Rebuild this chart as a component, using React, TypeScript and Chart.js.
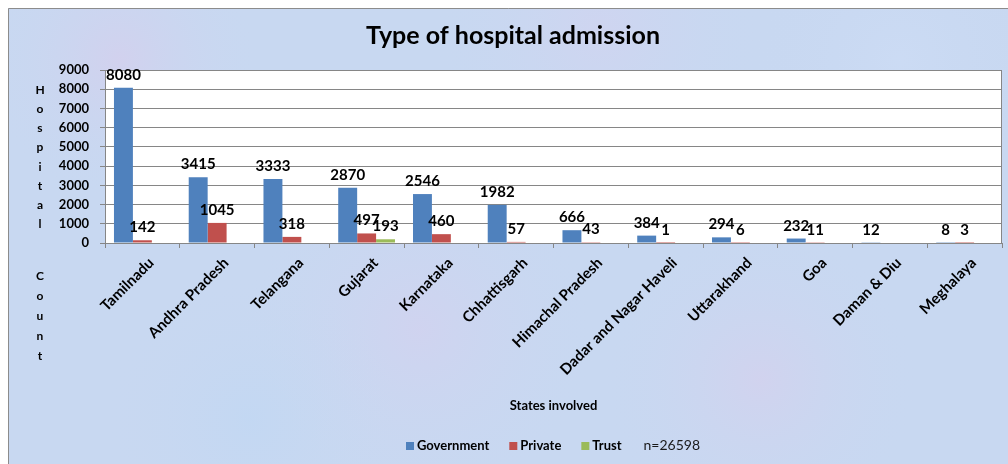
import React, { useEffect, useRef } from "react";
import { Chart, registerables } from "chart.js";

Chart.register(...registerables);

const categories = [
  "Tamilnadu",
  "Andhra Pradesh",
  "Telangana",
  "Gujarat",
  "Karnataka",
  "Chhattisgarh",
  "Himachal Pradesh",
  "Dadar and Nagar Haveli",
  "Uttarakhand",
  "Goa",
  "Daman & Diu",
  "Meghalaya",
];
const governmentValues = [8080, 3415, 3333, 2870, 2546, 1982, 666, 384, 294, 232, 12, 8];
const privateValues = [142, 1045, 318, 497, 460, 57, 43, 1, 6, 11, 0, 3];
const trustValues = [0, 0, 0, 193, 0, 0, 0, 0, 0, 0, 0, 0];
const seriesNames = ["Government", "Private", "Trust"];
const seriesColors = ["#4F81BD", "#C0504D", "#9BBB59"];
const yMin = 0;
const yMax = 9000;
const yStep = 1000;
const chartTitle = "Type of hospital admission";
const yTitleWords = ["Hospital", "Count"];
const xTitle = "States involved";
const noteText = "n=26598";

const FONT = "Lato, 'Open Sans', sans-serif";

const decorPlugin = {
  id: "decor",
  beforeDraw(chart: any) {
    const { ctx, width, height, chartArea } = chart;
    ctx.save();
    ctx.fillStyle = "#ffffff";
    ctx.fillRect(0, 0, width, height);
    ctx.fillStyle = "#c8d8f1";
    ctx.fillRect(8, 8, width - 8, height - 8);
    const blobs = [
      [120, 60, 140, "rgba(228,196,232,0.35)"],
      [420, 330, 180, "rgba(226,200,236,0.30)"],
      [760, 380, 160, "rgba(230,198,232,0.30)"],
      [900, 60, 150, "rgba(210,225,250,0.35)"],
      [250, 420, 150, "rgba(185,215,245,0.35)"],
      [600, 30, 170, "rgba(224,204,238,0.28)"],
    ];
    for (const [bx, by, r, c] of blobs as any) {
      const g = ctx.createRadialGradient(bx, by, 0, bx, by, r);
      g.addColorStop(0, c);
      g.addColorStop(1, "rgba(200,216,241,0)");
      ctx.fillStyle = g;
      ctx.fillRect(8, 8, width - 8, height - 8);
    }
    ctx.strokeStyle = "#8c8c8c";
    ctx.lineWidth = 1;
    ctx.beginPath();
    ctx.moveTo(8.5, height);
    ctx.lineTo(8.5, 8.5);
    ctx.lineTo(width, 8.5);
    ctx.stroke();
    ctx.fillStyle = "#ffffff";
    ctx.fillRect(chartArea.left, chartArea.top, chartArea.right - chartArea.left, chartArea.bottom - chartArea.top);
    ctx.restore();
  },
  afterDatasetsDraw(chart: any) {
    const { ctx } = chart;
    ctx.save();
    ctx.fillStyle = "#000000";
    ctx.font = `bold 15px ${FONT}`;
    ctx.textAlign = "center";
    ctx.textBaseline = "alphabetic";
    chart.data.datasets.forEach((ds: any, di: number) => {
      const meta = chart.getDatasetMeta(di);
      meta.data.forEach((bar: any, i: number) => {
        const v = ds.data[i];
        if (v > 0) {
          ctx.fillText(String(v), bar.x, bar.y - 8);
        }
      });
    });
    ctx.restore();
  },
  afterDraw(chart: any) {
    const { ctx, chartArea } = chart;
    ctx.save();
    ctx.strokeStyle = "#868686";
    ctx.lineWidth = 1;
    ctx.beginPath();
    ctx.moveTo(Math.round(chartArea.right) - 0.5, chartArea.top);
    ctx.lineTo(Math.round(chartArea.right) - 0.5, chartArea.bottom);
    ctx.stroke();

    ctx.fillStyle = "#000000";
    ctx.font = `bold 25px ${FONT}`;
    ctx.textAlign = "center";
    ctx.textBaseline = "middle";
    ctx.fillText(chartTitle, 513, 36);

    ctx.font = `bold 12px ${FONT}`;
    const starts = [90, 276];
    const steps = [19.2, 20];
    yTitleWords.forEach((w, wi) => {
      w.split("").forEach((ch, ci) => {
        ctx.fillText(ch, 40, starts[wi] + ci * steps[wi]);
      });
    });

    ctx.font = `bold 13px ${FONT}`;
    ctx.fillText(xTitle, (chartArea.left + chartArea.right) / 2, 406);

    ctx.font = `bold 13px ${FONT}`;
    ctx.textAlign = "left";
    let x = 406;
    const ly = 446;
    seriesNames.forEach((name, i) => {
      ctx.fillStyle = seriesColors[i];
      ctx.fillRect(x, ly - 4, 8, 8);
      ctx.fillStyle = "#000000";
      ctx.fillText(name, x + 11, ly);
      x += 11 + ctx.measureText(name).width + 20;
    });
    ctx.font = `14px ${FONT}`;
    ctx.fillStyle = "#1a1a1a";
    ctx.fillText(noteText, x + 2, ly - 1);
    ctx.restore();
  },
};

export default function App() {
  const canvasRef = useRef<HTMLCanvasElement | null>(null);

  useEffect(() => {
    document.body.style.margin = "0";
    document.body.style.overflow = "hidden";
    const canvas = canvasRef.current;
    if (!canvas) return;
    const values = [governmentValues, privateValues, trustValues];
    const chart = new Chart(canvas, {
      type: "bar",
      data: {
        labels: categories,
        datasets: seriesNames.map((name, i) => ({
          label: name,
          data: values[i],
          backgroundColor: seriesColors[i],
          borderWidth: 0,
          categoryPercentage: 0.76,
          barPercentage: 1.0,
        })),
      },
      options: {
        responsive: false,
        animation: false,
        devicePixelRatio: 1,
        layout: { padding: { top: 70, right: 6, left: 0, bottom: 0 } },
        plugins: {
          legend: { display: false },
          title: { display: false },
          tooltip: { enabled: false },
        },
        scales: {
          x: {
            grid: {
              display: true,
              drawOnChartArea: false,
              drawTicks: true,
              tickLength: 5,
              color: "#868686",
              offset: true,
            },
            border: { display: true, color: "#868686" },
            ticks: {
              minRotation: 45,
              maxRotation: 45,
              autoSkip: false,
              padding: 6,
              labelOffset: 9,
              color: "#000000",
              font: { family: FONT, weight: "bold", size: 15 },
            },
            afterFit: (s: any) => {
              s.height = 221;
            },
          },
          y: {
            min: yMin,
            max: yMax,
            ticks: {
              stepSize: yStep,
              padding: 11,
              color: "#000000",
              font: { family: FONT, weight: "bold", size: 13 },
              callback: (v: any) => String(v),
            },
            grid: { color: "#868686", tickLength: 5 },
            border: { display: true, color: "#868686" },
            afterFit: (s: any) => {
              s.width = 105;
            },
          },
        },
      } as any,
      plugins: [decorPlugin],
    });
    return () => chart.destroy();
  }, []);

  return (
    <div style={{ width: 1008, height: 464 }}>
      <canvas ref={canvasRef} width={1008} height={464} style={{ display: "block" }} />
    </div>
  );
}
